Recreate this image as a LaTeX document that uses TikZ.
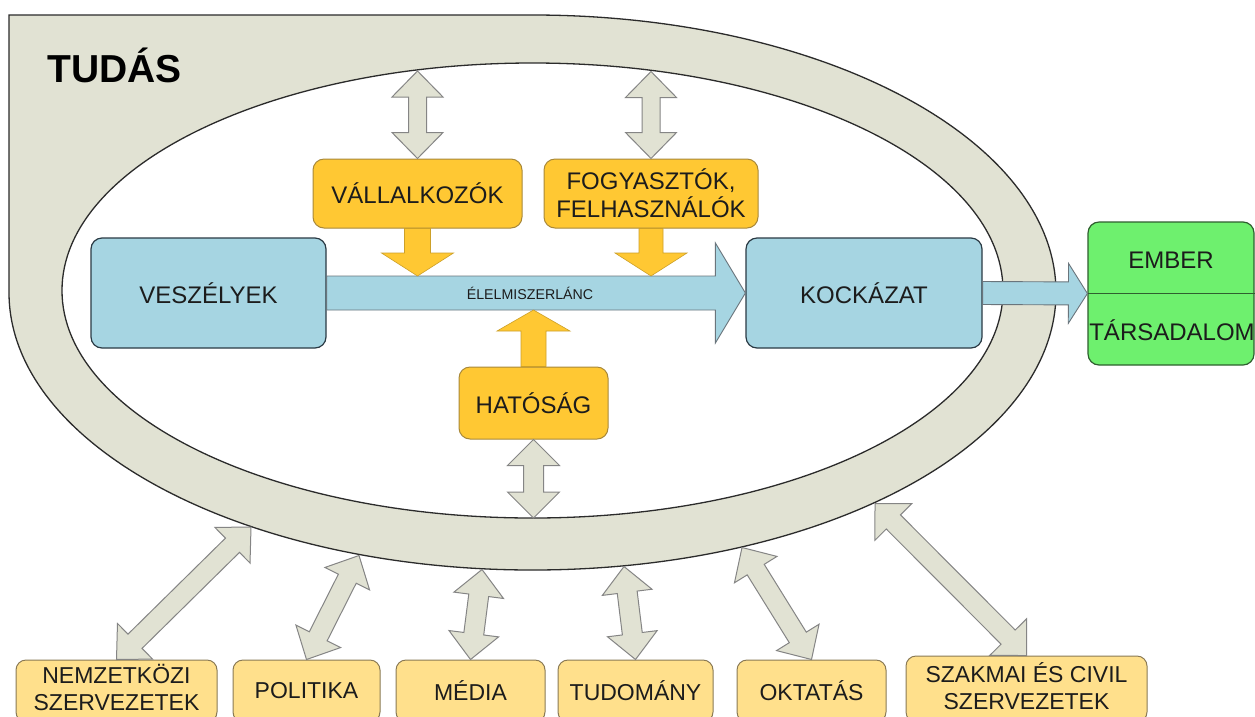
\documentclass[tikz,border=0pt]{standalone}
\usepackage{fontspec}
\setmainfont{Liberation Sans}
\usetikzlibrary{calc}
\definecolor{band}{HTML}{E1E2D3}
\definecolor{bandline}{HTML}{2B2B2B}
\definecolor{garrowline}{HTML}{858585}
\definecolor{blue1}{HTML}{A6D5E2}
\definecolor{blueline}{HTML}{2A3A44}
\definecolor{yel}{HTML}{FFC833}
\definecolor{yelline}{HTML}{A8883A}
\definecolor{ltyel}{HTML}{FFE08C}
\definecolor{ltyelline}{HTML}{8A7A55}
\definecolor{grn}{HTML}{6EF06E}
\definecolor{grnline}{HTML}{2F5F2F}
\definecolor{txt}{HTML}{1C1C1C}
% double arrow: #1 style, #2 from, #3 to, #4 shaft half width, #5 head half width, #6 head length
\newcommand\DblArrow[6]{%
 \draw[#1] (#2)
  -- ($(#2)!#6!(#3)!#5!90:(#3)$)
  -- ($(#2)!#6!(#3)!#4!90:(#3)$)
  -- ($(#3)!#6!(#2)!#4!-90:(#2)$)
  -- ($(#3)!#6!(#2)!#5!-90:(#2)$)
  -- (#3)
  -- ($(#3)!#6!(#2)!#5!90:(#2)$)
  -- ($(#3)!#6!(#2)!#4!90:(#2)$)
  -- ($(#2)!#6!(#3)!#4!-90:(#3)$)
  -- ($(#2)!#6!(#3)!#5!-90:(#3)$)
  -- cycle;}
% single arrow: base at #2, tip at #3
\newcommand\OneArrow[6]{%
 \draw[#1] ($(#2)!#4!90:(#3)$)
  -- ($(#3)!#6!(#2)!#4!-90:(#2)$)
  -- ($(#3)!#6!(#2)!#5!-90:(#2)$)
  -- (#3)
  -- ($(#3)!#6!(#2)!#5!90:(#2)$)
  -- ($(#3)!#6!(#2)!#4!90:(#2)$)
  -- ($(#2)!#4!-90:(#3)$)
  -- cycle;}
\begin{document}
\begin{tikzpicture}[x=1pt,y=-1pt,
  bandshape/.style={fill=band,draw=bandline,line width=1.3pt},
  grayarrow/.style={fill=band,draw=garrowline,line width=1pt,line join=miter},
  bluearrow/.style={fill=blue1,draw=blueline!70,line width=0.9pt},
  yelarrow/.style={fill=yel,draw=yel!80!black,line width=0.6pt},
  basebox/.style={inner sep=0pt,text=txt,font=\fontsize{24}{28}\selectfont,align=center},
  bluebox/.style={basebox,draw=blueline,fill=blue1,line width=1.2pt,rounded corners=11pt},
  yelbox/.style={basebox,draw=yelline,fill=yel,line width=1pt,rounded corners=11pt},
  ltbox/.style={basebox,font=\fontsize{23}{27}\selectfont,draw=ltyelline,fill=ltyel,line width=1pt,rounded corners=10pt},
  grnbox/.style={basebox,draw=grnline,fill=grn,line width=1.2pt,rounded corners=11pt},
  plain/.style={inner sep=0pt,text=txt,font=\fontsize{24}{28}\selectfont},
  bottomtext/.style={inner sep=0pt,text=txt,font=\fontsize{23}{27}\selectfont,align=center}
]
\useasboundingbox[fill=white] (0,0) rectangle (1255,716);
% knowledge band
\draw[bandshape] (9,292.5) -- (9,15) -- (532.5,15)
  arc[start angle=-90, end angle=180, x radius=523.5, y radius=277.5] -- cycle;
\draw[fill=white,draw=bandline,line width=1.3pt] (532.5,290.5) ellipse [x radius=470.5, y radius=227.5];
\node[inner sep=0pt,anchor=base west,font=\fontsize{39}{39}\selectfont\bfseries,text=black] (tudas) at (47,82) {TUDÁS};

% boxes
\node[bluebox,minimum width=235pt,minimum height=110pt] (vesz) at (208.5,293) {VESZÉLYEK};
\node[bluebox,minimum width=236pt,minimum height=110pt] (kock) at (864,293) {KOCKÁZAT};
\node[yelbox,minimum width=209pt,minimum height=69pt] (vall) at (417.5,193.5) {VÁLLALKOZÓK};
\node[yelbox,minimum width=214pt,minimum height=69pt] (fogy) at (651,193.5) {FOGYASZTÓK,\\FELHASZNÁLÓK};
\node[yelbox,minimum width=149pt,minimum height=72pt] (hat) at (533.5,403) {HATÓSÁG};

% food chain arrow
\OneArrow{bluearrow}{vesz.east}{kock.west}{17pt}{50pt}{30pt}
\node[inner sep=0pt,text=txt,font=\fontsize{14.2}{15}\selectfont] (elel) at (530,293) {ÉLELMISZERLÁNC};

% yellow arrows
\coordinate (vt) at (417.5,276);
\coordinate (ft) at (651,276);
\coordinate (ht) at (533.5,310);
\OneArrow{yelarrow}{vall.south}{vt}{13pt}{36pt}{23pt}
\OneArrow{yelarrow}{fogy.south}{ft}{12pt}{36pt}{23pt}
\OneArrow{yelarrow}{hat.north}{ht}{12.5pt}{36.5pt}{21pt}

% inner gray arrows
\coordinate (e1) at (417.5,71);
\coordinate (e2) at (651,71.5);
\coordinate (e3) at (533.5,518);
\DblArrow{grayarrow}{e1}{vall.north}{9pt}{25.5pt}{26pt}
\DblArrow{grayarrow}{e2}{fogy.north}{9pt}{25.5pt}{26pt}
\DblArrow{grayarrow}{hat.south}{e3}{10pt}{26pt}{26pt}

% bottom boxes
\node[ltbox,minimum width=201pt,minimum height=62pt] (nemz) at (116.5,691) {};
\node[bottomtext] (nemzt) at (116.5,687) {NEMZETKÖZI\\SZERVEZETEK};
\node[ltbox,minimum width=147pt,minimum height=62pt] (pol) at (306.5,691) {POLITIKA};
\node[ltbox,minimum width=149pt,minimum height=62pt] (med) at (470.5,691) {MÉDIA};
\node[ltbox,minimum width=155pt,minimum height=62pt] (tud) at (635.5,691) {TUDOMÁNY};
\node[ltbox,minimum width=149pt,minimum height=62pt] (okt) at (811.5,691) {OKTATÁS};
\node[ltbox,minimum width=241pt,minimum height=66pt] (szak) at (1026.5,689) {};
\node[bottomtext] (szakt) at (1026.5,686) {SZAKMAI ÉS CIVIL\\SZERVEZETEK};

% outer gray arrows
\coordinate (o1) at (251,527);
\coordinate (o2) at (359,555.5);
\coordinate (o3) at (482,569.5);
\coordinate (o4) at (624,566.5);
\coordinate (o5) at (742,547.5);
\coordinate (o6) at (875,503.5);
\DblArrow{grayarrow}{nemz.north}{o1}{10pt}{25pt}{26pt}
\DblArrow{grayarrow}{pol.north}{o2}{10pt}{25pt}{26pt}
\DblArrow{grayarrow}{med.north}{o3}{10pt}{25pt}{26pt}
\DblArrow{grayarrow}{tud.north}{o4}{10pt}{25pt}{26pt}
\DblArrow{grayarrow}{okt.north}{o5}{10pt}{25pt}{26pt}
\DblArrow{grayarrow}{szak.north}{o6}{10pt}{26pt}{26pt}

% people / society
\node[grnbox,minimum width=166pt,minimum height=143pt] (grnb) at (1171,293.5) {};
\draw[draw=grnline,line width=1.2pt] (grnb.west) -- (grnb.east);
\node[plain] (ember) at (1171,260) {EMBER};
\node[plain] (tars) at (1172,330) {TÁRSADALOM};
\OneArrow{bluearrow}{kock.east}{grnb.west}{11.5pt}{30pt}{19pt}
\end{tikzpicture}
\end{document}
